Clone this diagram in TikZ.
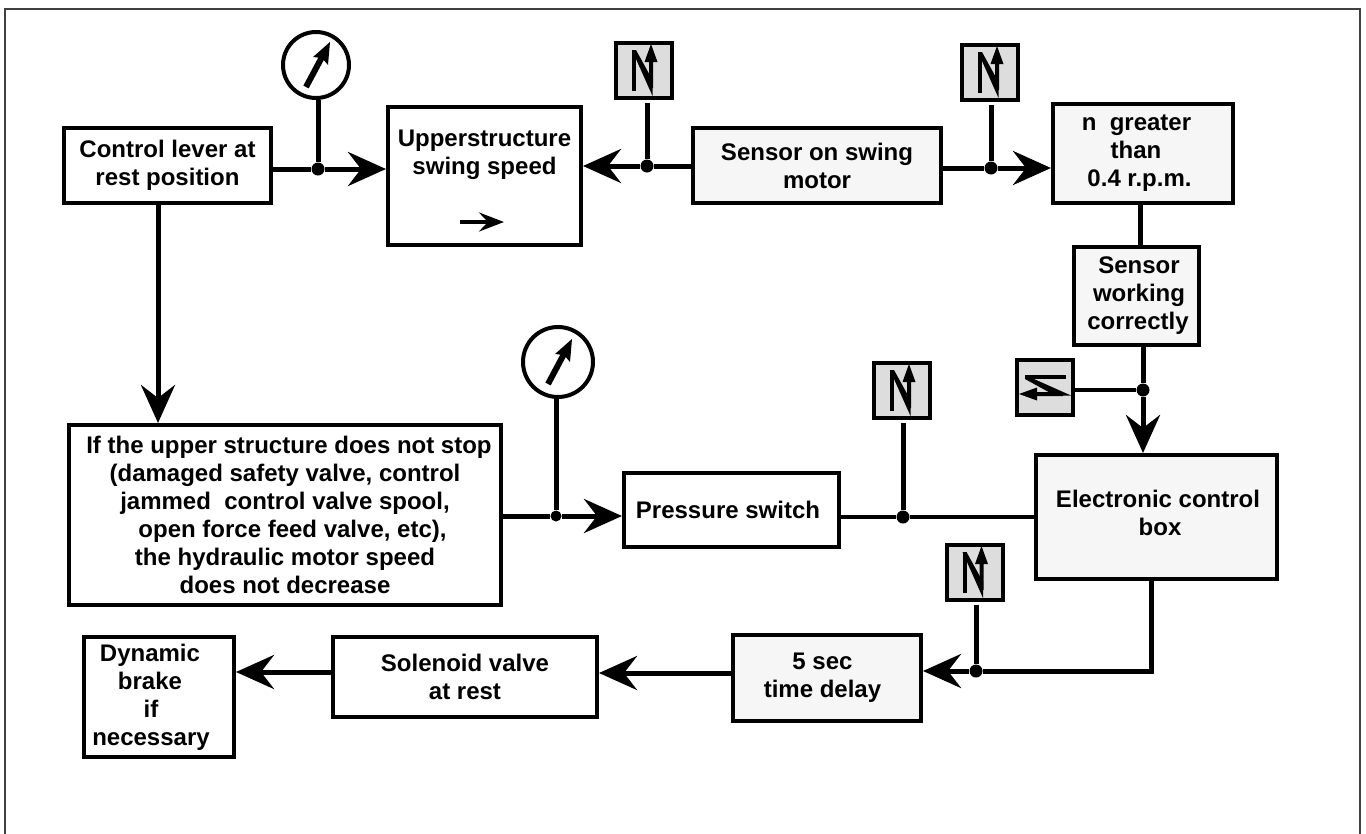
\documentclass[tikz,border=0pt]{standalone}
\usepackage{fontspec}
\setmainfont{Liberation Sans}
\usetikzlibrary{arrows.meta}
\definecolor{swgray}{HTML}{DDDDDD}
\definecolor{light}{HTML}{F6F6F6}
\tikzset{
  box/.style={draw=black,line width=4pt,fill=white,inner sep=0pt,align=center,font=\fontsize{24}{28}\selectfont\bfseries},
  lbox/.style={box,fill=light},
  swbox/.style={draw=black,line width=4pt,fill=swgray,minimum width=56pt,minimum height=55pt,inner sep=0pt},
  gauge/.style={circle,draw=black,line width=4pt,fill=white,inner sep=0pt},
  dotj/.style={circle,fill=black,inner sep=0pt,minimum size=13pt},
  conn/.style={line width=5pt,draw=black},
  arr/.style={conn,-{Stealth[length=38pt,width=34pt,inset=13pt]}},
  pics/swsym/.style={code={
    \fill (-12,-20) -- (-8,-20) -- (-8,21) -- (-12,21) -- cycle;
    \fill (-12,-20) -- (-8,-20) -- (8.5,10) -- (8.5,26) -- cycle;
    \fill (5,18) -- (9,18) -- (9,-8) -- (13.5,-8) -- (7,-26) -- (0.5,-8) -- (5,-8) -- cycle;
  }},
  pics/swsymh/.style={code={
    \fill (-20,-12) -- (-20,-8) -- (21,-8) -- (21,-12) -- cycle;
    \fill (-20,-12) -- (-20,-8) -- (10,8.5) -- (26,8.5) -- cycle;
    \fill (18,5) -- (18,9) -- (-8,9) -- (-8,13.5) -- (-26,7) -- (-8,0.5) -- (-8,5) -- cycle;
  }},
  pics/needle/.style={code={
    \draw[line width=6pt] (-10,22) -- (6,-8);
    \fill (14,-23) -- (12,0) -- (6,-7) -- (-3,-8) -- cycle;
  }}
}
\begin{document}
\begin{tikzpicture}[x=1pt,y=-1pt]
\useasboundingbox (0,0) rectangle (1366,833);
\draw[line width=2.6pt,draw=black!75] (5,9) rectangle (1360,840);

% main blocks
\node[box,minimum width=207pt,minimum height=75pt] (lever) at (167.5,165.5) {Control lever at\\rest position};
\node[box,minimum width=193pt,minimum height=138pt] (upper) at (484.5,176) {Upperstructure\\swing speed\\[20pt]\mbox{}};
\node[lbox,minimum width=248pt,minimum height=75pt] (sensor) at (817,165.5) {Sensor on swing\\motor};
\node[lbox,minimum width=180pt,minimum height=99pt] (ngt) at (1143,153.5) {\hspace*{-13pt}n\ \ greater\\\hspace*{-14pt}than\\\hspace*{-7pt}0.4 r.p.m.};
\node[lbox,minimum width=125pt,minimum height=98pt] (working) at (1136.5,296) {\hspace*{5pt}Sensor\\\hspace*{5pt}working\\\hspace*{3pt}correctly};
\node[lbox,minimum width=241pt,minimum height=124pt] (ecb) at (1156.5,517) {\hspace*{3pt}Electronic control\\\hspace*{7pt}box\\[-20pt]\mbox{}};
\node[box,minimum width=432pt,minimum height=180pt] (big) at (285,515) {\hspace*{8pt}If the upper structure does not stop\\(damaged safety valve, control\\jammed\ \ control valve spool,\\\hspace*{15pt}open force feed valve, etc),\\the hydraulic motor speed\\does not decrease};
\node[box,minimum width=215pt,minimum height=74pt] (press) at (731.5,510) {\hspace*{-7pt}Pressure switch};
\node[lbox,minimum width=188pt,minimum height=86pt] (delay) at (827,678) {\hspace*{-9pt}5 sec\\\hspace*{-9pt}time delay\\[-22pt]\mbox{}};
\node[box,minimum width=264pt,minimum height=80pt] (sol) at (465,677) {Solenoid valve\\at rest};
\node[box,minimum width=150pt,minimum height=120pt] (brake) at (159,697) {\hspace*{-18pt}Dynamic\\\hspace*{-18pt}brake\\\hspace*{-16pt}if\\\hspace*{-16pt}necessary};

% indicators
\node[gauge,minimum size=66pt] (g1) at (316,65) {};
\node[gauge,minimum size=70pt] (g2) at (558,362) {};
\node[swbox] (s1) at (644,70) {};
\node[swbox] (s2) at (990,72) {};
\node[swbox] (s3) at (902,390) {};
\node[swbox] (s4) at (974.5,572) {};
\node[swbox] (s5) at (1045,387) {};

% junctions
\node[dotj] (j1) at (318,169) {};
\node[dotj] (j2) at (647,166) {};
\node[dotj] (j3) at (991,168) {};
\node[dotj] (j4) at (1143,390) {};
\node[dotj,minimum size=11pt] (j5) at (556,516) {};
\node[dotj] (j6) at (903,517) {};
\node[dotj] (j7) at (976,671) {};

% connectors
\draw[arr] (lever.east |- j1) -- (j1) -- (upper.west |- j1);
\draw[conn] (j1) -- (g1.south -| j1);
\draw[arr] (sensor.west |- j2) -- (j2) -- (upper.east |- j2);
\draw[conn] (j2) -- ([yshift=-3pt]s1.south -| j2);
\draw[arr] (sensor.east |- j3) -- (j3) -- (ngt.west |- j3);
\draw[conn] (j3) -- ([yshift=-3pt]s2.south -| j3);
\draw[conn] (ngt.south -| 1140,0) -- (working.north -| 1140,0);
\draw[arr] (working.south -| j4) -- (j4) -- (ecb.north -| j4);
\draw[conn,line width=4pt] (s5.east |- j4) -- (j4);
\draw[arr] (lever.south -| 158,0) -- (big.north -| 158,0);
\draw[arr] (big.east |- j5) -- (j5) -- (press.west |- j5);
\draw[conn] (j5) -- (g2.south -| j5);
\draw[conn,line width=4pt] (press.east |- j6) -- (j6) -- (ecb.west |- j6);
\draw[conn] (j6) -- ([yshift=-3pt]s3.south -| j6);
\draw[arr] (ecb.south -| 1151,0) |- (j7) -- (delay.east |- j7);
\draw[conn] (j7) -- ([yshift=-3pt]s4.south -| j7);
\draw[arr] (delay.west |- 0,673) -- (sol.east |- 0,673);
\draw[arr] (sol.west |- 0,672) -- (brake.east |- 0,672);

% small arrow inside the upperstructure block
\coordinate (ua) at (460,222);
\coordinate (ub) at (504,222);
\draw[line width=4pt,-{Stealth[length=25pt,width=19pt,inset=9pt]}] (ua) -- (ub);

% symbols
\pic at (g1) {needle};
\pic at (g2) {needle};
\pic at (s1) {swsym};
\pic at (s2) {swsym};
\pic at (s3) {swsym};
\pic at (s4) {swsym};
\pic at (s5) {swsymh};
\end{tikzpicture}
\end{document}
